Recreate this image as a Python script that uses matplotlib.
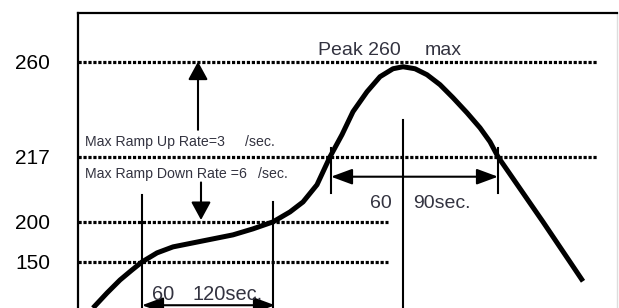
import numpy as np
import matplotlib
matplotlib.use('Agg')
import matplotlib.pyplot as plt

plt.rcParams['font.family'] = ['Liberation Sans', 'DejaVu Sans']

# reflow profile curve (time offset, temperature)
curve_time = [15, 29, 42, 54, 64, 79, 95, 115, 135, 155, 175, 195, 212, 225,
              239, 252, 264, 275, 289, 302, 315, 325, 337, 349, 362, 375, 389,
              402, 412, 420, 465, 492, 505]
curve_temp = [100, 116.3, 130.4, 141.3, 150, 161.3, 168.8, 173.8, 178.8, 183.8,
              191.3, 200, 202.6, 205.2, 209.7, 217, 227.0, 237.4, 246.4, 253.2,
              256.8, 257.7, 256.8, 254.1, 249.6, 243.7, 236.9, 230.1, 223.8, 217,
              200, 150, 129]

levels = [260, 217, 200, 150]
level_labels = ['260', '217', '200', '150']
level_end = [519, 519, 310, 310]

# vertical marker lines: time, top temperature, bottom temperature
marker_time = [64, 195, 325, 253, 420]
marker_top = [207, 205.2, 233.7, 221, 221]
marker_bottom = [100, 100, 100, 207.6, 207.6]

# the drawing is schematic: the temperature axis has unequal spacing
scale_temp = np.array([-1000, 100, 150, 200, 217, 260, 282, 1000])
scale_pos = np.array([-1012, 0, 46, 86, 151, 246, 294.6, 1881.6])


def fwd(t):
    return np.interp(t, scale_temp, scale_pos)


def inv(u):
    return np.interp(u, scale_pos, scale_temp)


fig = plt.figure(figsize=(6.19, 3.08), dpi=100)
ax = fig.add_axes([78 / 619, 0, (617 - 78) / 619, 295 / 308])
ax.set_yscale('function', functions=(fwd, inv))
ax.set_xlim(0, 539)
ax.set_ylim(100, 282)

for s in ['left', 'top']:
    ax.spines[s].set_linewidth(1.6)
ax.spines['bottom'].set_visible(False)
ax.spines['right'].set_color('#dddddd')
ax.spines['right'].set_linewidth(1)

ax.set_xticks([])
ax.set_yticks(levels)
ax.set_yticklabels(level_labels, fontsize=15)
ax.tick_params(axis='y', length=0, pad=20)
ax.yaxis.set_minor_locator(matplotlib.ticker.NullLocator())

for lev, end in zip(levels, level_end):
    ax.plot([0, end], [lev, lev], color='black', lw=2.3,
            linestyle=(0, (1, 0.55)), solid_capstyle='butt')

for t, top, bot in zip(marker_time, marker_top, marker_bottom):
    ax.plot([t, t], [bot, top], color='black', lw=1.5)

ax.plot(curve_time, curve_temp, color='black', lw=3.6,
        solid_joinstyle='round', solid_capstyle='butt')

single = dict(arrowstyle='-|>,head_length=0.55,head_width=0.3', mutation_scale=20,
              lw=1.5, color='black', shrinkA=0, shrinkB=0)
double = dict(arrowstyle='<|-|>,head_length=0.65,head_width=0.24', mutation_scale=20,
              lw=1.5, color='black', shrinkA=0, shrinkB=0)

ax.annotate('', xy=(120, 260), xytext=(120, 229.2), arrowprops=single)
ax.annotate('', xy=(123, 200.5), xytext=(123, 210.3), arrowprops=single)
ax.annotate('', xy=(253, 211.8), xytext=(420, 211.8), arrowprops=double)
ax.annotate('', xy=(64, 103), xytext=(197, 103), arrowprops=double)

txt = '#333340'
ax.text(240, 263.2, 'Peak 260', fontsize=14, color=txt, va='baseline')
ax.text(347, 263.2, 'max', fontsize=14, color=txt, va='baseline')
ax.text(7, 222, 'Max Ramp Up Rate=3', fontsize=10.2, color=txt, va='baseline')
ax.text(167, 222, '/sec.', fontsize=10.2, color=txt, va='baseline')
ax.text(7, 211.5, 'Max Ramp Down Rate =6', fontsize=10.2, color=txt, va='baseline')
ax.text(180, 211.5, '/sec.', fontsize=10.2, color=txt, va='baseline')
ax.text(74, 108.7, '60', fontsize=14.4, color=txt, va='baseline')
ax.text(115, 108.7, '120sec.', fontsize=14.4, color=txt, va='baseline')
ax.text(292, 203.7, '60', fontsize=14, color=txt, va='baseline')
ax.text(335, 203.7, '90sec.', fontsize=14, color=txt, va='baseline')

fig.savefig('out.png', dpi=100)
